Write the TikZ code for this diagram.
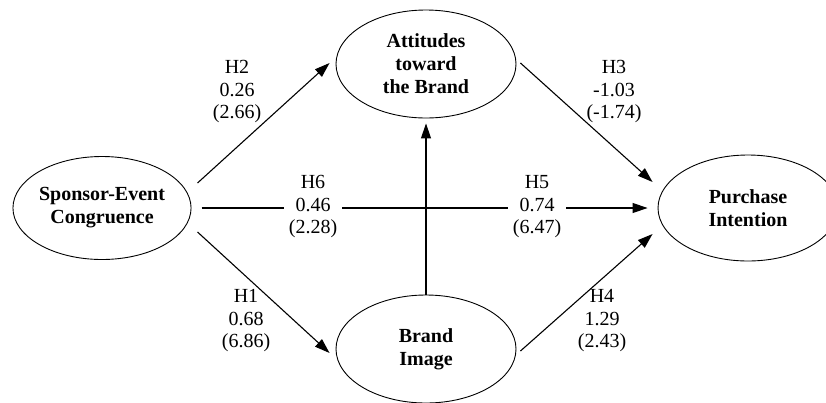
\documentclass[tikz,border=0pt]{standalone}
\usepackage{fontspec}
\setmainfont{Liberation Serif}
\usetikzlibrary{arrows.meta,shapes.geometric}
\begin{document}
\begin{tikzpicture}[x=1pt,y=-1pt,
  construct/.style={draw,ellipse,line width=0.9pt,inner sep=0pt,align=center,font=\fontsize{20}{23}\selectfont\bfseries},
  link/.style={draw,line width=1.1pt,-{Triangle[length=15pt,width=10pt]}},
  coef/.style={align=center,font=\fontsize{20}{22.5}\selectfont,inner sep=0pt},
  coefcut/.style={coef,fill=white,inner xsep=5pt,inner ysep=2pt}]
\useasboundingbox (0,0) rectangle (826,402);
\node[construct,minimum width=178pt,minimum height=103pt] (se) at (102,208) {Sponsor-Event\\Congruence};
\node[construct,minimum width=180pt,minimum height=108pt] (att) at (426,64) {Attitudes\\toward\\the Brand};
\node[construct,minimum width=180pt,minimum height=108pt] (brand) at (426,349) {Brand\\Image};
\node[construct,minimum width=180pt,minimum height=106pt] (pi) at (748,208) {Purchase\\Intention};

\draw[link] ([xshift=6pt,yshift=25pt]se.east) -- ([xshift=-6pt,yshift=1pt]att.west);
\draw[link] ([xshift=6pt,yshift=-24pt]se.east) -- ([xshift=-6pt,yshift=-4pt]brand.west);
\draw[link] ([xshift=10pt]se.east) -- ([xshift=-10pt]pi.west);
\draw[link] (brand.north) -- ([yshift=-5pt]att.south);
\draw[link] ([xshift=4pt,yshift=1pt]att.east) -- ([xshift=-5pt,yshift=26pt]pi.west);
\draw[link] ([xshift=4pt,yshift=-2pt]brand.east) -- ([xshift=-5pt,yshift=-26pt]pi.west);

\node[coef] (h2) at (237,92) {H2\\0.26\\(2.66)};
\node[coef] (h3) at (614,92) {H3\\-1.03\\(-1.74)};
\node[coefcut] (h6) at (313,207) {H6\\0.46\\(2.28)};
\node[coefcut] (h5) at (537,207) {H5\\0.74\\(6.47)};
\node[coef] (h1) at (246,321) {H1\\0.68\\(6.86)};
\node[coef] (h4) at (602,321) {H4\\1.29\\(2.43)};
\end{tikzpicture}
\end{document}
